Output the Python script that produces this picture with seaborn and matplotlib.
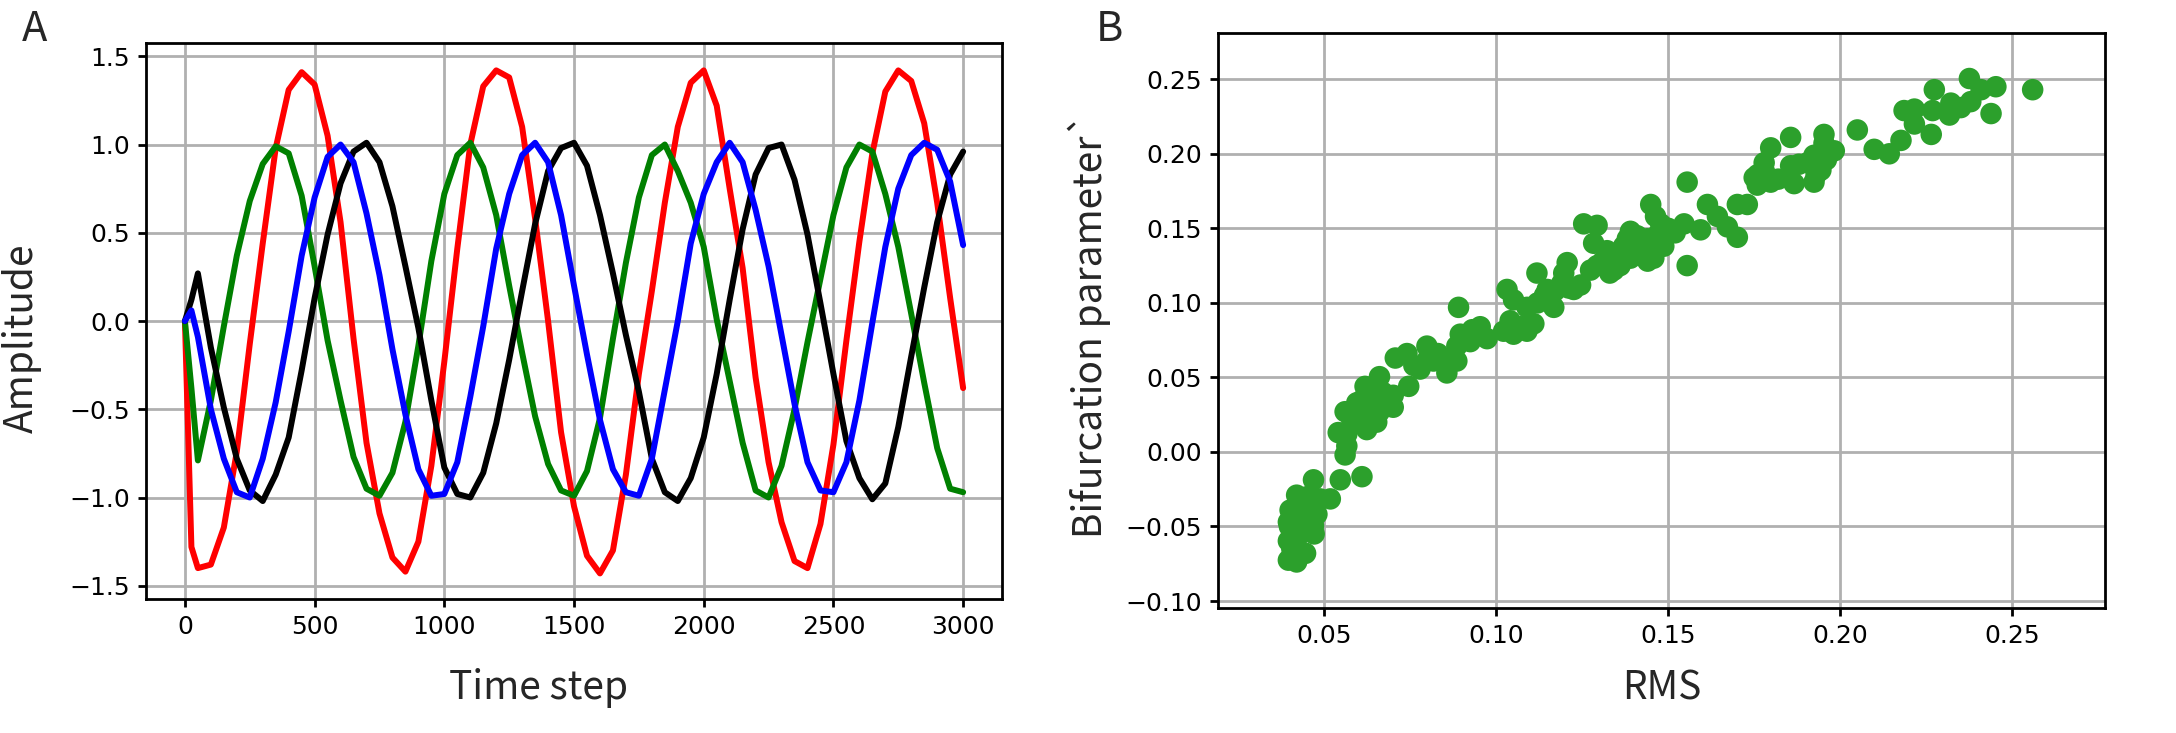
import matplotlib
matplotlib.use("Agg")
import matplotlib.pyplot as plt
import seaborn as sns
import pandas as pd
import numpy as np
from matplotlib import font_manager

# ---------------- data: panel A (time series) ----------------
time_steps = [0, 25] + list(range(50, 3001, 50))

red_wave = [0.00, -1.28, -1.40, -1.38, -1.17, -0.74, -0.13, 0.44, 0.98, 1.31, 1.41, 1.34, 1.05,
            0.56, -0.10, -0.69, -1.09, -1.34, -1.42, -1.25, -0.82, -0.23, 0.41, 1.00, 1.33, 1.42,
            1.38, 1.10, 0.58, 0.00, -0.63, -1.05, -1.33, -1.43, -1.30, -0.87, -0.30, 0.17, 0.67,
            1.10, 1.35, 1.42, 1.22, 0.75, 0.30, -0.32, -0.80, -1.14, -1.36, -1.40, -1.15, -0.70,
            -0.11, 0.45, 0.95, 1.30, 1.42, 1.36, 1.12, 0.67, 0.13, -0.38]

green_wave = [0.00, -0.38, -0.79, -0.45, -0.03, 0.37, 0.68, 0.89, 0.99, 0.95, 0.71, 0.31, -0.11,
              -0.45, -0.77, -0.95, -0.99, -0.86, -0.57, -0.14, 0.34, 0.72, 0.94, 1.01, 0.87, 0.60,
              0.20, -0.18, -0.54, -0.81, -0.96, -0.99, -0.85, -0.55, -0.10, 0.33, 0.70, 0.94, 1.00,
              0.85, 0.67, 0.42, 0.01, -0.34, -0.69, -0.96, -1.00, -0.82, -0.50, -0.12, 0.24, 0.60,
              0.87, 1.00, 0.96, 0.72, 0.42, 0.04, -0.35, -0.72, -0.95, -0.97]

blue_wave = [0.00, 0.06, -0.09, -0.50, -0.78, -0.97, -1.00, -0.78, -0.46, -0.06, 0.37, 0.70, 0.93,
             1.00, 0.90, 0.61, 0.26, -0.16, -0.53, -0.84, -0.99, -0.98, -0.80, -0.43, -0.03, 0.41,
             0.72, 0.94, 1.01, 0.90, 0.60, 0.20, -0.19, -0.56, -0.84, -0.97, -0.99, -0.78, -0.39,
             0.00, 0.44, 0.72, 0.90, 1.01, 0.90, 0.63, 0.31, -0.08, -0.47, -0.80, -0.96, -0.97,
             -0.80, -0.45, -0.01, 0.42, 0.75, 0.94, 1.01, 0.97, 0.79, 0.43]

black_wave = [0.00, 0.12, 0.27, -0.15, -0.49, -0.78, -0.96, -1.02, -0.87, -0.66, -0.28, 0.13, 0.49,
              0.78, 0.96, 1.01, 0.90, 0.65, 0.31, -0.04, -0.45, -0.83, -0.98, -1.00, -0.86, -0.58,
              -0.22, 0.17, 0.55, 0.85, 0.98, 1.01, 0.88, 0.60, 0.27, -0.08, -0.40, -0.78, -0.97,
              -1.02, -0.89, -0.66, -0.30, 0.12, 0.52, 0.83, 0.98, 1.00, 0.80, 0.49, 0.10, -0.30,
              -0.68, -0.89, -1.01, -0.92, -0.60, -0.20, 0.19, 0.56, 0.83, 0.96]

series_names = ["red", "green", "black", "blue"]
series_colors = ["#ff0000", "#008000", "#000000", "#0000ff"]

# ---------------- data: panel B (scatter) ----------------
rms = [
    0.0395, 0.0419, 0.0429, 0.0395, 0.0410, 0.0395, 0.0439, 0.0468, 0.0478, 0.0419, 0.0468, 0.0487,
    0.0449, 0.0400, 0.0405, 0.0420, 0.0435, 0.0460, 0.0450, 0.0425, 0.0445, 0.0470, 0.0398,
    0.0517, 0.0546, 0.0609, 0.0560, 0.0565, 0.0540, 0.0565, 0.0560, 0.0594, 0.0580, 0.0623, 0.0618,
    0.0652, 0.0660, 0.0633, 0.0700, 0.0700, 0.0618, 0.0660, 0.0652, 0.0670, 0.0745, 0.0706, 0.0740,
    0.0798, 0.0778, 0.0817, 0.0856, 0.0846, 0.0885, 0.0885, 0.0895, 0.0890, 0.0924, 0.0953, 0.0973,
    0.1031, 0.1050, 0.1021, 0.1050, 0.1089, 0.1109, 0.1089, 0.1118, 0.1148, 0.1167, 0.1196, 0.1206,
    0.1225, 0.1245, 0.1274, 0.1293, 0.1254, 0.1293, 0.1283, 0.1322, 0.1342, 0.1351, 0.1381, 0.1390,
    0.1420, 0.1439, 0.1449, 0.1463, 0.1458, 0.1487, 0.1487,
    0.1478, 0.1546, 0.1555, 0.1555, 0.1594, 0.1614, 0.1643, 0.1672, 0.1701, 0.1701, 0.1730, 0.1750,
    0.1759, 0.1779, 0.1798, 0.1798, 0.1856, 0.1856, 0.1866, 0.1905, 0.1924, 0.1924, 0.1944, 0.1953,
    0.1953, 0.1983, 0.2050, 0.2099, 0.2143, 0.2177, 0.2186, 0.2216, 0.2216, 0.2265, 0.2269, 0.2274,
    0.2318, 0.2322, 0.2351, 0.2376, 0.2380, 0.2410, 0.2439, 0.2453, 0.2560,
    0.0610, 0.0640, 0.0660, 0.0680, 0.0630, 0.0590,
    0.0760, 0.0800, 0.0830, 0.0870, 0.0910, 0.0930,
    0.1040, 0.1070, 0.1120, 0.1140, 0.1170, 0.1190, 0.1210,
    0.1370, 0.1400, 0.1410, 0.1430, 0.1450, 0.1470, 0.1440, 0.1390, 0.1360, 0.1330, 0.1310,
    0.1760, 0.1780, 0.1820, 0.1880, 0.1930, 0.1960,
    0.1500, 0.1520, 0.1480,
]
bifurcation = [
    -0.0726, -0.0738, -0.0674, -0.0597, -0.0546, -0.0470, -0.0444, -0.0495, -0.0418, -0.0290, -0.0187, -0.0315,
    -0.0367, -0.0390, -0.0650, -0.0580, -0.0520, -0.0400, -0.0300, -0.0450, -0.0680, -0.0550, -0.0500,
    -0.0315, -0.0187, -0.0166, -0.0020, 0.0040, 0.0130, 0.0120, 0.0270, 0.0330, 0.0200, 0.0150, 0.0220,
    0.0200, 0.0270, 0.0300, 0.0300, 0.0380, 0.0440, 0.0505, 0.0430, 0.0400, 0.0440, 0.0630, 0.0660,
    0.0710, 0.0556, 0.0610, 0.0530, 0.0610, 0.0610, 0.0710, 0.0790, 0.0970, 0.0740, 0.0840, 0.0760,
    0.1090, 0.1020, 0.0810, 0.0790, 0.0810, 0.0860, 0.0970, 0.1200, 0.1090, 0.0970, 0.1200, 0.1270,
    0.1090, 0.1120, 0.1220, 0.1250, 0.1530, 0.1520, 0.1400, 0.1350, 0.1220, 0.1330, 0.1430, 0.1480,
    0.1350, 0.1430, 0.1660, 0.1580, 0.1300, 0.1380, 0.1480,
    0.1530, 0.1530, 0.1250, 0.1810, 0.1490, 0.1660, 0.1580, 0.1510, 0.1440, 0.1660, 0.1660, 0.1840,
    0.1790, 0.1940, 0.2040, 0.1810, 0.2110, 0.1920, 0.1800, 0.1940, 0.1990, 0.1810, 0.1890, 0.2130,
    0.2070, 0.2020, 0.2160, 0.2030, 0.2000, 0.2090, 0.2290, 0.2300, 0.2200, 0.2130, 0.2290, 0.2430,
    0.2260, 0.2340, 0.2310, 0.2505, 0.2350, 0.2430, 0.2270, 0.2450, 0.2430,
    0.0350, 0.0250, 0.0350, 0.0320, 0.0400, 0.0280,
    0.0580, 0.0620, 0.0660, 0.0630, 0.0770, 0.0820,
    0.0880, 0.0840, 0.1000, 0.1050, 0.1080, 0.1130, 0.1100,
    0.1380, 0.1400, 0.1450, 0.1360, 0.1420, 0.1460, 0.1280, 0.1300, 0.1250, 0.1200, 0.1280,
    0.1860, 0.1880, 0.1830, 0.1930, 0.1860, 0.1960,
    0.1500, 0.1470, 0.1430,
]

# ---------------- style ----------------
sns.set_style("whitegrid", rc={
    "axes.edgecolor": "black",
    "axes.linewidth": 2.0,
    "grid.color": "#b0b0b0",
    "grid.linewidth": 2.0,
    "xtick.bottom": True,
    "ytick.left": True,
    "xtick.color": "black",
    "ytick.color": "black",
})
plt.rcParams["font.family"] = ["DejaVu Sans"]

available = {f.name for f in font_manager.fontManager.ttflist}
label_font = next((n for n in ["Noto Sans CJK JP", "Noto Sans CJK SC", "Open Sans", "DejaVu Sans"]
                   if n in available), "DejaVu Sans")
label_family = [label_font, "DejaVu Sans"]

fig = plt.figure(figsize=(21.76, 7.33), dpi=100)
ax1 = fig.add_axes([0.0671, 0.1828, 0.3934, 0.7585])
ax2 = fig.add_axes([0.5597, 0.1705, 0.4076, 0.7844])

# ---------------- panel A ----------------
wave_values = [red_wave, green_wave, black_wave, blue_wave]
frames = []
for name, vals in zip(series_names, wave_values):
    frames.append(pd.DataFrame({"Time step": time_steps, "Amplitude": vals, "series": name}))
df_lines = pd.concat(frames, ignore_index=True)

sns.lineplot(data=df_lines, x="Time step", y="Amplitude", hue="series", hue_order=series_names,
             palette=dict(zip(series_names, series_colors)), linewidth=4.3, legend=False,
             estimator=None, sort=False, ax=ax1)

ax1.set_xlim(-150, 3150)
ax1.set_ylim(-1.575, 1.575)
ax1.set_xticks(np.arange(0, 3001, 500))
ax1.set_yticks(np.arange(-1.5, 1.51, 0.5))

# ---------------- panel B ----------------
df_pts = pd.DataFrame({"RMS": rms, "Bifurcation": bifurcation})
sns.scatterplot(data=df_pts, x="RMS", y="Bifurcation", color="#2ca02c", s=240,
                edgecolor="none", linewidth=0, ax=ax2)
ax2.set_xlim(0.019, 0.277)
ax2.set_ylim(-0.1047, 0.281)
ax2.set_xticks([0.05, 0.10, 0.15, 0.20, 0.25])
ax2.set_yticks([-0.10, -0.05, 0.00, 0.05, 0.10, 0.15, 0.20, 0.25])

for ax in (ax1, ax2):
    ax.grid(True, color="#b0b0b0", linewidth=2.0)
    ax.tick_params(axis="both", direction="out", length=5.5, width=2.0, labelsize=18,
                   colors="black", pad=6)
    for sp in ax.spines.values():
        sp.set_visible(True)
        sp.set_color("black")
        sp.set_linewidth(2.0)

ax1.set_xlabel("Time step", fontsize=28, family=label_family, labelpad=21)
ax1.set_ylabel("Amplitude", fontsize=28, family=label_family, labelpad=20)
ax2.set_xlabel("RMS", fontsize=28, family=label_family, labelpad=15)
ax2.set_ylabel("Bifurcation parameter`", fontsize=28, family=label_family, labelpad=10)
ax1.xaxis.label.set_x(0.458)
ax1.yaxis.label.set_y(0.469)
ax2.yaxis.label.set_y(0.492)

fig.text(0.0101, 0.9877, "A", fontsize=30, family=label_family, va="top", ha="left")
fig.text(0.5037, 0.9877, "B", fontsize=30, family=label_family, va="top", ha="left")

fig.savefig("out.png", dpi=100, facecolor="white")
